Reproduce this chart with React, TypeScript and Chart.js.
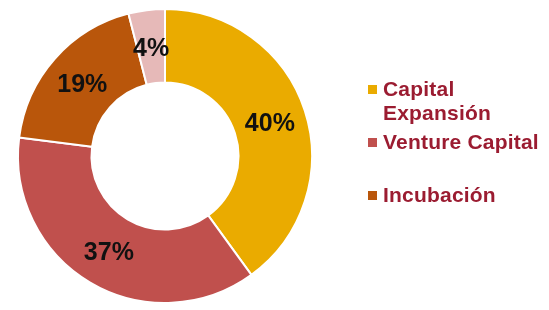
import React, { useEffect, useRef } from "react";
import { Chart, registerables } from "chart.js";

Chart.register(...registerables);

const categories = ["Capital Expansión", "Venture Capital", "Incubación", "Otros"];
const values = [40, 37, 19, 4];
const valueLabels = ["40%", "37%", "19%", "4%"];
const colors = ["#EAAB00", "#C0504D", "#B9560B", "#E6B9B8"];
const legendItems = [
  { lines: ["Capital", "Expansión"], color: "#EAAB00", top: 77 },
  { lines: ["Venture Capital"], color: "#C0504D", top: 130 },
  { lines: ["Incubación"], color: "#B9560B", top: 183 },
];

const labelPlugin = {
  id: "sliceLabels",
  afterDatasetsDraw(chart: any) {
    const ctx = chart.ctx;
    const meta = chart.getDatasetMeta(0);
    ctx.save();
    ctx.font = "bold 25px 'Liberation Sans', Arial, sans-serif";
    ctx.fillStyle = "#111111";
    ctx.textAlign = "center";
    ctx.textBaseline = "middle";
    meta.data.forEach((arc: any, i: number) => {
      const p = arc.getProps(["x", "y", "startAngle", "endAngle", "innerRadius", "outerRadius"], true);
      const a = (p.startAngle + p.endAngle) / 2;
      const r = (p.innerRadius + p.outerRadius) / 2;
      ctx.fillText(valueLabels[i], p.x + Math.cos(a) * r, p.y + Math.sin(a) * r + 2);
    });
    ctx.restore();
  },
};

export default function App() {
  const ref = useRef<HTMLCanvasElement>(null);
  useEffect(() => {
    document.body.style.margin = "0";
    const chart = new Chart(ref.current!, {
      type: "doughnut",
      data: {
        labels: categories,
        datasets: [
          {
            data: values,
            backgroundColor: colors,
            borderColor: "#ffffff",
            borderWidth: 2,
          },
        ],
      },
      options: {
        animation: false,
        responsive: false,
        cutout: "50%",
        layout: { padding: { left: 17, right: 236, top: 8, bottom: 6 } },
        plugins: { legend: { display: false }, tooltip: { enabled: false } },
      },
      plugins: [labelPlugin],
    });
    return () => chart.destroy();
  }, []);

  return (
    <div style={{ position: "relative", width: 549, height: 310, background: "#fff" }}>
      <canvas ref={ref} width={549} height={310} style={{ position: "absolute", left: 0, top: 0 }} />
      {legendItems.map((it, i) => (
        <div
          key={i}
          style={{
            position: "absolute",
            left: 368,
            top: it.top,
            display: "flex",
            alignItems: "flex-start",
          }}
        >
          <div style={{ width: 9, height: 9, marginTop: 8, background: it.color, flex: "none" }} />
          <div
            style={{
              marginLeft: 6,
              font: "bold 21px 'Liberation Sans', Arial, sans-serif",
              lineHeight: "24px",
              letterSpacing: "0.2px",
              color: "#9B1C31",
              whiteSpace: "nowrap",
            }}
          >
            {it.lines.map((l, j) => (
              <div key={j}>{l}</div>
            ))}
          </div>
        </div>
      ))}
    </div>
  );
}
